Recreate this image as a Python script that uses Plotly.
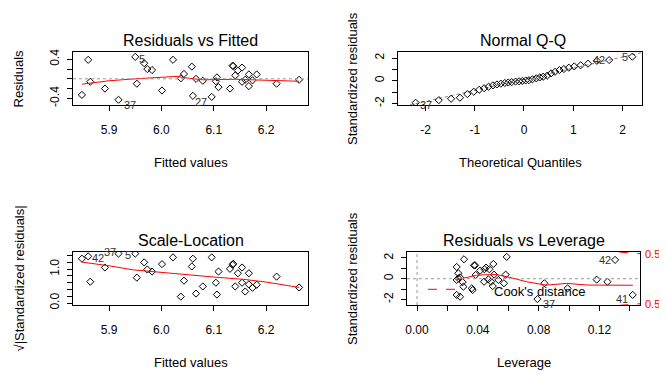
import numpy as np
import plotly.graph_objects as go

# the page body has an 8px margin, so the figure is drawn 8px in from the top-left corner
OX, OY = 8, 8
W, H = 667 - OX, 379 - OY
FONT = "Liberation Sans, Arial, sans-serif"

# ---------------- data ----------------
fitted = [5.848, 5.860, 5.864, 5.892, 5.918, 5.950, 5.953, 5.967, 5.973, 5.982,
          6.001, 6.022, 6.037, 6.043, 6.058, 6.060, 6.066, 6.079, 6.096, 6.104,
          6.106, 6.109, 6.131, 6.136, 6.137, 6.141, 6.146, 6.154, 6.154, 6.160,
          6.167, 6.167, 6.174, 6.182, 6.220, 6.263]
residuals = [-0.33, 0.39, -0.06, -0.20, -0.43, 0.45, -0.10, 0.32, 0.20, 0.18,
             -0.24, 0.39, 0.01, 0.10, 0.25, -0.35, 0.00, -0.04, -0.37, -0.05,
             0.03, -0.17, -0.20, 0.27, 0.26, 0.07, 0.17, 0.23, -0.06, -0.02,
             0.09, -0.15, -0.03, 0.09, -0.10, -0.02]
sqrt_std_resid = [1.31, 1.38, 0.63, 1.05, 1.46, 1.46, 0.75, 1.20, 0.99, 0.93,
                  1.15, 1.35, 0.19, 0.66, 1.08, 1.31, 0.28, 0.49, 1.35, 0.60,
                  0.25, 0.93, 1.01, 1.13, 1.16, 0.49, 0.88, 1.05, 0.60, 0.34,
                  0.88, 0.55, 0.45, 0.54, 0.78, 0.46]
theo_quant = [-2.20, -1.73, -1.48, -1.30, -1.15, -1.02, -0.91, -0.81, -0.72, -0.63,
              -0.55, -0.47, -0.39, -0.32, -0.25, -0.17, -0.10, -0.035, 0.035, 0.10,
              0.17, 0.25, 0.32, 0.39, 0.47, 0.55, 0.63, 0.72, 0.81, 0.91,
              1.02, 1.15, 1.30, 1.48, 1.73, 2.20]
std_resid_sorted = [-1.94, -1.71, -1.59, -1.50, -1.18, -0.97, -0.80, -0.66, -0.53, -0.41,
                    -0.33, -0.26, -0.20, -0.16, -0.12, -0.08, -0.05, -0.02, 0.02, 0.05,
                    0.12, 0.21, 0.29, 0.35, 0.44, 0.65, 0.79, 0.94, 1.03, 1.15,
                    1.26, 1.36, 1.50, 1.75, 1.82, 2.12]
leverage = [0.0261, 0.0272, 0.0261, 0.0272, 0.0283, 0.0300, 0.0309, 0.0305, 0.0261, 0.0283,
            0.0360, 0.0366, 0.0375, 0.0382, 0.0386, 0.0415, 0.0441, 0.0443, 0.0454, 0.0469,
            0.0476, 0.0487, 0.0502, 0.0507, 0.0498, 0.0535, 0.0572, 0.0583, 0.0590, 0.0792,
            0.0838, 0.0990, 0.1182, 0.1253, 0.1303, 0.1419]
std_resid_lev = [1.13, 0.52, -0.12, 0.04, 0.13, -0.33, 1.87, -0.77, -1.56, -1.73,
                 -0.93, -1.09, 1.29, 1.29, 0.36, 0.78, -0.29, 0.91, 1.07, -0.06,
                 0.91, -0.29, 1.42, 0.39, -0.71, -0.12, -0.44, 0.39, 2.10, -1.96,
                 -0.44, -0.93, -0.09, -0.29, 1.81, -1.56]

# smoother (red) lines
smooth1_x = [5.848, 5.90, 5.95, 6.00, 6.03, 6.045, 6.08, 6.14, 6.20, 6.263]
smooth1_y = [-0.11, -0.04, 0.00, 0.04, 0.05, 0.02, -0.02, -0.01, -0.03, -0.05]
smooth3_x = [5.848, 5.90, 5.946, 6.00, 6.048, 6.106, 6.157, 6.20, 6.263]
smooth3_y = [1.21, 1.10, 0.98, 0.90, 0.83, 0.76, 0.70, 0.62, 0.46]
smooth4_x = [0.026, 0.033, 0.039, 0.045, 0.052, 0.061, 0.072, 0.085, 0.0985, 0.112, 0.125, 0.142]
smooth4_y = [-0.10, 0.15, 0.33, 0.38, 0.40, 0.13, -0.29, -0.62, -0.45, -0.61, -0.63, -0.63]

qq_intercept, qq_slope = 0.13, 0.98
cook_level, n_params = 0.5, 2

# point labels (index, text)
labels1 = [(5, "5"), (4, "37"), (18, "27")]
labels2 = [(0, "37"), (34, "42"), (35, "5")]
labels3 = [(1, "42"), (4, "37"), (5, "5")]
labels4 = [(34, "42"), (35, "41"), (29, "37")]

# axis ranges and ticks
x1_range = [5.831, 6.280]; y1_range = [-0.537, 0.55]
x2_range = [-2.558, 2.396]; y2_range = [-2.14, 2.53]
y3_range = [-0.058, 1.508]
x4_range = [-0.0066, 0.1467]; y4_range = [-2.53, 2.57]

fit_ticks = [5.9, 6.0, 6.1, 6.2]; fit_ticktext = ["5.9", "6.0", "6.1", "6.2"]
res_ticks = [-0.4, -0.2, 0.0, 0.2, 0.4]; res_ticktext = ["-0.4", "", "", "", "0.4"]
std_ticks = [-2, -1, 0, 1, 2]; std_ticktext = ["-2", "", "0", "", "2"]
qq_ticks = [-2, -1, 0, 1, 2]; qq_ticktext = ["-2", "-1", "0", "1", "2"]
sl_ticks = [0.0, 0.2, 0.4, 0.6, 0.8, 1.0, 1.2, 1.4]
sl_ticktext = ["0.0", "", "", "", "", "1.0", "", ""]
lev_ticks = [0.0, 0.02, 0.04, 0.06, 0.08, 0.10, 0.12, 0.14]
lev_ticktext = ["0.00", "", "0.04", "", "0.08", "", "0.12", ""]

# ---------------- layout helpers (page pixels -> paper) ----------------
def px(x):
    return (x - OX) / W

def py(y):
    return 1 - (y - OY) / H

boxes = {
    1: (73, 308, 52, 105),
    2: (398, 642, 52, 105),
    3: (73, 308, 252, 305),
    4: (407, 640, 252, 305),
}

def xaxis(n, rng, tv, tt):
    l, r, t, b = boxes[n]
    return dict(domain=[px(l), px(r)], range=rng, anchor="y%d" % n if n > 1 else "y",
                tickmode="array", tickvals=tv, ticktext=tt,
                showline=True, mirror=True, linecolor="black", linewidth=1,
                ticks="outside", ticklen=5, tickwidth=1, tickcolor="black",
                showgrid=False, zeroline=False, automargin=False,
                ticklabelstandoff=9,
                tickfont=dict(family=FONT, size=12, color="black"))

def yaxis(n, rng, tv, tt):
    l, r, t, b = boxes[n]
    return dict(domain=[py(b), py(t)], range=rng, anchor="x%d" % n if n > 1 else "x",
                tickmode="array", tickvals=tv, ticktext=tt, tickangle=-90,
                showline=True, mirror=True, linecolor="black", linewidth=1,
                ticks="outside", ticklen=5, tickwidth=1, tickcolor="black",
                showgrid=False, zeroline=False, automargin=False,
                ticklabelstandoff=3,
                tickfont=dict(family=FONT, size=12, color="black"))

fig = go.Figure()
marker = dict(symbol="diamond-open", size=5.5, color="black", line=dict(width=1, color="black"))

def axes_of(n):
    return ("x" if n == 1 else "x%d" % n), ("y" if n == 1 else "y%d" % n)

def pts(x, y, n):
    xa, ya = axes_of(n)
    fig.add_trace(go.Scatter(x=x, y=y, mode="markers", marker=marker, xaxis=xa, yaxis=ya,
                             showlegend=False, hoverinfo="skip"))

def line(x, y, n, color="red", dash="solid", width=1):
    xa, ya = axes_of(n)
    fig.add_trace(go.Scatter(x=x, y=y, mode="lines", line=dict(color=color, dash=dash, width=width),
                             xaxis=xa, yaxis=ya, showlegend=False, hoverinfo="skip"))

# Panel 1
fig.add_shape(type="line", xref="x domain", x0=0, x1=1, yref="y", y0=0, y1=0,
              line=dict(color="#9a9a9a", dash="dot", width=1))
pts(fitted, residuals, 1)
line(smooth1_x, smooth1_y, 1)

# Panel 2
qx = np.array(x2_range)
line(qx, qq_intercept + qq_slope * qx, 2, color="#808080", dash="dot")
pts(theo_quant, std_resid_sorted, 2)

# Panel 3
pts(fitted, sqrt_std_resid, 3)
line(smooth3_x, smooth3_y, 3)

# Panel 4
fig.add_shape(type="line", xref="x4 domain", x0=0, x1=1, yref="y4", y0=0, y1=0,
              line=dict(color="#9a9a9a", dash="dot", width=1))
fig.add_shape(type="line", xref="x4", x0=0, x1=0, yref="y4 domain", y0=0, y1=1,
              line=dict(color="#9a9a9a", dash="dot", width=1))
pts(leverage, std_resid_lev, 4)
line(smooth4_x, smooth4_y, 4)
hh = np.linspace(min(leverage) / 100, x4_range[1], 101)
cl = np.sqrt(cook_level * n_params * (1 - hh) / hh)
line(hh, cl, 4, dash="dash")
line(hh, -cl, 4, dash="dash")
cl_end = float(np.sqrt(cook_level * n_params * (1 - x4_range[1]) / x4_range[1]))
for s in (1, -1):
    fig.add_annotation(x=x4_range[1], y=s * cl_end, xref="x4", yref="y4", text=str(cook_level),
                       showarrow=False, xanchor="left", xshift=3,
                       font=dict(family=FONT, size=11, color="red"))
# legend for Cook's distance
fig.add_shape(type="line", xref="paper", yref="paper", x0=px(428), x1=px(463), y0=py(289.3), y1=py(289.3),
              line=dict(color="red", dash="dash", width=1))
fig.add_annotation(x=px(492), y=py(291.5), xref="paper", yref="paper", text="Cook's distance",
                   showarrow=False, xanchor="left", yanchor="middle",
                   font=dict(family=FONT, size=13, color="black"))

# point labels
def add_labels(xs, ys, labs, n, specs):
    xa, ya = axes_of(n)
    for (i, t), (anchor, dx, dy) in zip(labs, specs):
        fig.add_annotation(x=xs[i], y=ys[i], xref=xa, yref=ya, text=t, showarrow=False,
                           xanchor=anchor, yanchor="middle", xshift=dx, yshift=dy,
                           borderpad=0,
                           font=dict(family=FONT, size=11, color="#333333"))

add_labels(fitted, residuals, labels1, 1, [("left", 3, -2), ("left", 4, -5), ("right", -4, -5)])
add_labels(theo_quant, std_resid_sorted, labels2, 2, [("left", 3, -2), ("right", -3, 0), ("right", -3, 0)])
add_labels(fitted, sqrt_std_resid, labels3, 3, [("left", 3, -2), ("right", -2, 2), ("right", -3, -1)])
add_labels(leverage, std_resid_lev, labels4, 4, [("right", -3, 0), ("right", -4, -4), ("left", 5, -5)])

# titles and axis labels
def text(x, y, t, size, angle=0):
    fig.add_annotation(x=px(x), y=py(y), xref="paper", yref="paper", text=t, showarrow=False,
                       xanchor="center", yanchor="middle", textangle=angle,
                       font=dict(family=FONT, size=size, color="black"))

text(190.5, 40.5, "Residuals vs Fitted", 16)
text(523, 40.5, "Normal Q-Q", 16)
text(190.5, 240.5, "Scale-Location", 16)
text(523.5, 240.5, "Residuals vs Leverage", 16)

text(190.5, 162.5, "Fitted values", 13)
text(520, 162.5, "Theoretical Quantiles", 13)
text(190.5, 362.5, "Fitted values", 13)
text(523.5, 362.5, "Leverage", 13)

text(18, 78.5, "Residuals", 13, -90)
text(352.5, 78.5, "Standardized residuals", 13, -90)
text(19, 278.5, "√|Standardized residuals|", 13, -90)
text(352.5, 278.5, "Standardized residuals", 13, -90)

fig.update_layout(
    width=W, height=H, margin=dict(l=0, r=0, t=0, b=0),
    paper_bgcolor="white", plot_bgcolor="white", showlegend=False,
    xaxis=xaxis(1, x1_range, fit_ticks, fit_ticktext),
    yaxis=yaxis(1, y1_range, res_ticks, res_ticktext),
    xaxis2=xaxis(2, x2_range, qq_ticks, qq_ticktext),
    yaxis2=yaxis(2, y2_range, std_ticks, std_ticktext),
    xaxis3=xaxis(3, x1_range, fit_ticks, fit_ticktext),
    yaxis3=yaxis(3, y3_range, sl_ticks, sl_ticktext),
    xaxis4=xaxis(4, x4_range, lev_ticks, lev_ticktext),
    yaxis4=yaxis(4, y4_range, std_ticks, std_ticktext),
)

fig.write_html("out.html")
